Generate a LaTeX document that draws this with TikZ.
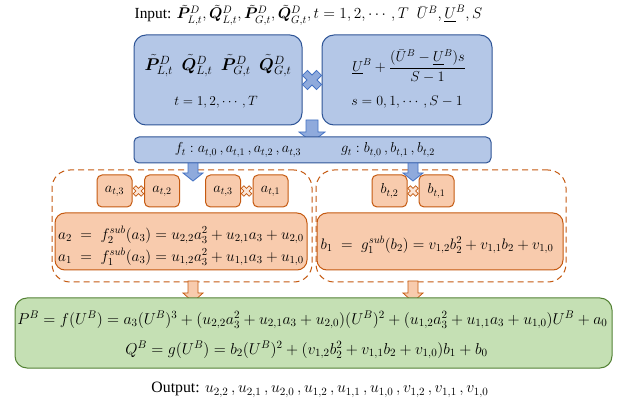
\RequirePackage{fix-cm}
\documentclass[tikz,border=0pt]{standalone}
\usepackage{amsmath}
\usepackage{fontspec}
\setmainfont{Liberation Serif}
\usepackage{bm}
\definecolor{bfill}{HTML}{B4C7E7}
\definecolor{bdraw}{HTML}{2F5597}
\definecolor{bafill}{HTML}{8FAADC}
\definecolor{badraw}{HTML}{4472C4}
\definecolor{ofill}{HTML}{F8CBAD}
\definecolor{odraw}{HTML}{C55A11}
\definecolor{gfill}{HTML}{C5E0B4}
\definecolor{gdraw}{HTML}{548235}
\tikzset{
  bluebox/.style={draw=bdraw,fill=bfill,line width=1pt,rounded corners=12pt,inner sep=0pt},
  barbox/.style={draw=bdraw,fill=bfill,line width=1pt,rounded corners=5pt,inner sep=0pt},
  dashbox/.style={draw=odraw,line width=1pt,dash pattern=on 6pt off 4pt,rounded corners=18pt,inner sep=0pt},
  smallbox/.style={draw=odraw,fill=ofill,line width=1pt,rounded corners=5pt,inner sep=0pt,minimum width=35pt,minimum height=32pt,font=\fontsize{14.4}{17}\selectfont},
  orangebox/.style={draw=odraw,fill=ofill,line width=1pt,rounded corners=10pt,inner sep=0pt},
  greenbox/.style={draw=gdraw,fill=gfill,line width=1pt,rounded corners=12pt,inner sep=0pt},
  bluearrow/.style={draw=badraw,fill=bafill,line width=0.8pt,line join=miter},
  orangearrow/.style={draw=odraw,fill=ofill,line width=0.8pt,line join=miter},
  txt/.style={inner sep=0pt},
}
% block arrow: style, x, ytop, ybot, shaft half, head half, head length
\newcommand\blockarr[7]{%
  \draw[#1] (#2-#5,#3) -- (#2+#5,#3) -- (#2+#5,#4-#7) -- (#2+#6,#4-#7) -- (#2,#4)
    -- (#2-#6,#4-#7) -- (#2-#5,#4-#7) -- cycle;}
% cross: style, cx, cy, arm length, half width
\newcommand\crossshape[5]{%
  \begin{scope}[shift={(#2,#3)},rotate=45]
  \draw[#1] (#5,#5) -- (#5,#4) -- (-#5,#4) -- (-#5,#5) -- (-#4,#5) -- (-#4,-#5) -- (-#5,-#5)
    -- (-#5,-#4) -- (#5,-#4) -- (#5,-#5) -- (#4,-#5) -- (#4,#5) -- cycle;
  \end{scope}}
\begin{document}
\begin{tikzpicture}[x=1pt,y=-1pt]
\useasboundingbox (0,0) rectangle (619,406);
\fill[white] (0,0) rectangle (619,406);

% input line
\node[txt,font=\fontsize{15.4}{17}\selectfont] (input) at (308.5,15)
  {Input: $\tilde{\bm P}^D_{L,t},\tilde{\bm Q}^D_{L,t},\tilde{\bm P}^D_{G,t},\tilde{\bm Q}^D_{G,t},t=1,2,\cdots,T\ \ \bar U^B,\underline{U}^B,S$};

% top boxes
\node[bluebox,minimum width=168pt,minimum height=90pt] (tl) at (218,80) {};
\node[bluebox,minimum width=170pt,minimum height=90pt] (tr) at (407,80) {};
\node[txt,font=\fontsize{17}{19}\selectfont] (tlrow) at (218,66)
  {$\tilde{\bm P}^D_{L,t}\ \ \tilde{\bm Q}^D_{L,t}\ \ \tilde{\bm P}^D_{G,t}\ \ \tilde{\bm Q}^D_{G,t}$};
\node[txt,font=\fontsize{13.5}{16}\selectfont] (tlt) at (216,102) {$t=1,2,\cdots,T$};
\node[txt,font=\fontsize{14.4}{16}\selectfont] (trf) at (409,66)
  {$\underline{U}^B+\dfrac{(\bar U^B-\underline{U}^B)s}{S-1}$};
\node[txt,font=\fontsize{14}{16}\selectfont] (trs) at (407,102) {$s=0,1,\cdots,S-1$};
\crossshape{draw=badraw,fill=bafill,line width=0.8pt}{312}{80}{10}{3.5}

% bar
\blockarr{bluearrow}{312}{120}{142}{6}{13}{10}
\node[barbox,minimum width=357pt,minimum height=26pt] (bar) at (312.5,150) {};
\node[txt,font=\fontsize{14.4}{17}\selectfont] (fl) at (238,150) {$f_t: a_{t,0}\,, a_{t,1}\,, a_{t,2}\,, a_{t,3}$};
\node[txt,font=\fontsize{14.4}{17}\selectfont] (gl) at (388,150) {$g_t: b_{t,0}\,, b_{t,1}\,, b_{t,2}$};

% dashed regions
\node[dashbox,minimum width=260pt,minimum height=112pt] (dl) at (182,226) {};
\node[dashbox,minimum width=250pt,minimum height=112pt] (dr) at (441,226) {};

\blockarr{bluearrow}{193}{163}{181}{5}{10}{8}
\blockarr{bluearrow}{413}{163}{181}{5}{10}{8}

% small boxes
\node[smallbox] (a3a) at (114.5,191) {$a_{t,3}$};
\node[smallbox] (a2) at (162,191) {$a_{t,2}$};
\node[smallbox] (a3b) at (223,191) {$a_{t,3}$};
\node[smallbox] (a1) at (270.5,191) {$a_{t,1}$};
\node[smallbox] (b2) at (389.5,191) {$b_{t,2}$};
\node[smallbox] (b1) at (436.5,191) {$b_{t,1}$};
\crossshape{draw=odraw,fill=ofill!50,line width=0.7pt}{138.5}{191}{5.5}{1.8}
\crossshape{draw=odraw,fill=ofill!50,line width=0.7pt}{246.5}{191}{5.5}{1.8}
\crossshape{draw=odraw,fill=ofill!50,line width=0.7pt}{413}{191}{5.5}{1.8}

% orange formula boxes
\node[orangebox,minimum width=252pt,minimum height=57pt] (fa) at (181,241.5) {};
\node[orangebox,minimum width=246pt,minimum height=57pt] (fb) at (440,241.5) {};
\node[txt,font=\fontsize{15.3}{17}\selectfont] (fa1) at (181,235)
  {$a_2\;=\;f_2^{sub}(a_3)=u_{2,2}a_3^2+u_{2,1}a_3+u_{2,0}$};
\node[txt,font=\fontsize{15.3}{17}\selectfont] (fa2) at (181,257)
  {$a_1\;=\;f_1^{sub}(a_3)=u_{1,2}a_3^2+u_{1,1}a_3+u_{1,0}$};
\node[txt,font=\fontsize{15.2}{17}\selectfont] (fb1) at (437,245)
  {$b_1\;=\;g_1^{sub}(b_2)=v_{1,2}b_2^2+v_{1,1}b_2+v_{1,0}$};

% orange arrows
\blockarr{orangearrow}{193}{281}{302}{5}{10}{9}
\blockarr{orangearrow}{413}{281}{302}{5}{10}{9}

% green box
\node[greenbox,minimum width=597pt,minimum height=70pt] (green) at (313.5,333) {};
\node[txt,font=\fontsize{15.8}{17}\selectfont] (pb) at (312.5,320)
  {$P^B=f(U^B)=a_3(U^B)^3+(u_{2,2}a_3^2+u_{2,1}a_3+u_{2,0})(U^B)^2+(u_{1,2}a_3^2+u_{1,1}a_3+u_{1,0})U^B+a_0$};
\node[txt,font=\fontsize{15.8}{17}\selectfont] (qb) at (306.5,350)
  {$Q^B=g(U^B)=b_2(U^B)^2+(v_{1,2}b_2^2+v_{1,1}b_2+v_{1,0})b_1+b_0$};

% output
\node[txt,font=\fontsize{15.8}{17}\selectfont] (output) at (320,390)
  {Output: $u_{2,2}\,,u_{2,1}\,,u_{2,0}\,,u_{1,2}\,,u_{1,1}\,,u_{1,0}\,,v_{1,2}\,,v_{1,1}\,,v_{1,0}$};
\end{tikzpicture}
\end{document}
